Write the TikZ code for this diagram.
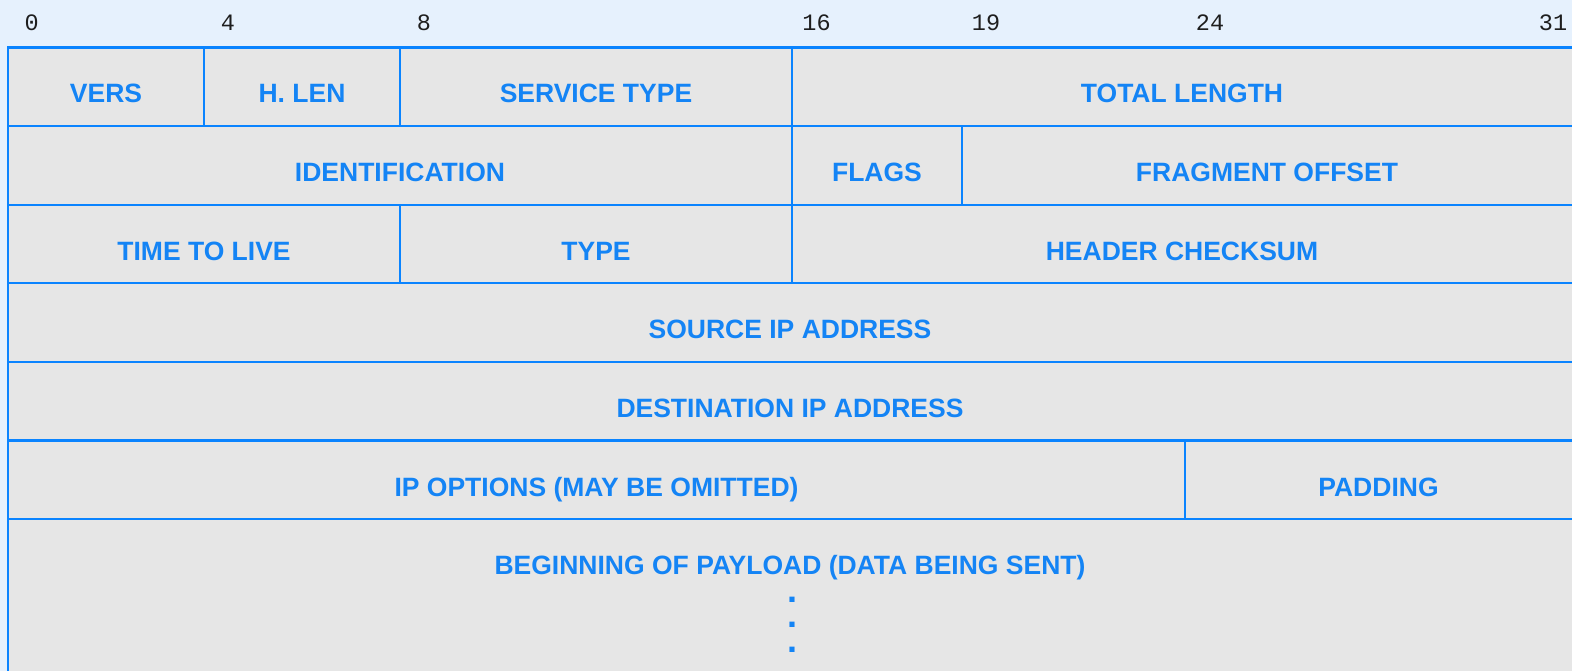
\documentclass[tikz,border=0pt]{standalone}
\usepackage{fontspec}
\setmainfont{Liberation Sans}
\newfontfamily\bitfont{Liberation Mono}
\definecolor{pagebg}{RGB}{230,241,253}
\definecolor{cellbg}{RGB}{230,230,230}
\definecolor{rulecol}{RGB}{10,132,255}
\definecolor{inkcol}{RGB}{20,132,245}
\definecolor{bitcol}{RGB}{30,30,30}

\begin{document}
\begin{tikzpicture}[x=1pt,y=-1pt,
  cell/.style={draw=rulecol, fill=cellbg, line width=2.2pt},
  fieldlabel/.style={anchor=base, text=inkcol, inner sep=0pt,
    font=\fontsize{26.5}{30}\selectfont\bfseries},
  dotmarks/.style={anchor=south, text=inkcol, inner sep=0pt, align=center,
    font=\fontsize{36}{24.8}\selectfont\bfseries},
  bitlabel/.style={anchor=base, text=bitcol, inner sep=0pt,
    font=\fontsize{23.5}{28}\bitfont}]

% page and frame
\fill[pagebg] (0,0) rectangle (1572,671);
\useasboundingbox (0,0) rectangle (1572,671);

% row boundaries
\def\ra{47.5}\def\rb{126.1}\def\rc{204.7}\def\rd{283.3}
\def\re{361.9}\def\rf{440.5}\def\rg{519.1}
\def\R{1573}

% bit positions above the header
\node[bitlabel] (b0)  at (31.7,31) {0};
\node[bitlabel] (b4)  at (228,31)  {4};
\node[bitlabel] (b8)  at (424,31)  {8};
\node[bitlabel] (b16) at (816.5,31) {16};
\node[bitlabel] (b19) at (986,31)  {19};
\node[bitlabel] (b24) at (1210,31) {24};
\node[bitlabel] (b31) at (1553,31) {31};

% word 1
\draw[cell] (8,\ra) rectangle (204,\rb);
\draw[cell] (204,\ra) rectangle (400,\rb);
\draw[cell] (400,\ra) rectangle (792,\rb);
\draw[cell] (792,\ra) rectangle (\R,\rb);
\node[fieldlabel] (vers) at (106,\ra+55.5) {VERS};
\node[fieldlabel] (hlen) at (302,\ra+55.5) {H. LEN};
\node[fieldlabel] (stype) at (596,\ra+55.5) {SERVICE TYPE};
\node[fieldlabel] (tlen) at (1182,\ra+55.5) {TOTAL LENGTH};

% word 2
\draw[cell] (8,\rb) rectangle (792,\rc);
\draw[cell] (792,\rb) rectangle (962,\rc);
\draw[cell] (962,\rb) rectangle (\R,\rc);
\node[fieldlabel] (ident) at (400,\rb+55.5) {IDENTIFICATION};
\node[fieldlabel] (flags) at (877,\rb+55.5) {FLAGS};
\node[fieldlabel] (fragoff) at (1267,\rb+55.5) {FRAGMENT OFFSET};

% word 3
\draw[cell] (8,\rc) rectangle (400,\rd);
\draw[cell] (400,\rc) rectangle (792,\rd);
\draw[cell] (792,\rc) rectangle (\R,\rd);
\node[fieldlabel] (ttl) at (204,\rc+55.5) {TIME TO LIVE};
\node[fieldlabel] (ptype) at (596,\rc+55.5) {TYPE};
\node[fieldlabel] (csum) at (1182,\rc+55.5) {HEADER CHECKSUM};

% words 4 and 5
\draw[cell] (8,\rd) rectangle (\R,\re);
\draw[cell] (8,\re) rectangle (\R,\rf);
\node[fieldlabel] (src) at (790,\rd+55.5) {SOURCE IP ADDRESS};
\node[fieldlabel] (dst) at (790,\re+55.5) {DESTINATION IP ADDRESS};

% word 6
\draw[cell] (8,\rf) rectangle (1185,\rg);
\draw[cell] (1185,\rf) rectangle (\R,\rg);
\node[fieldlabel] (opts) at (596.5,\rf+55.5) {IP OPTIONS (MAY BE OMITTED)};
\node[fieldlabel] (pad) at (1378.5,\rf+55.5) {PADDING};

% payload, continuing below the picture
\draw[cell] (8,\rg) rectangle (\R,690);
\node[fieldlabel] (payload) at (790,\rg+55.5) {BEGINNING OF PAYLOAD (DATA BEING SENT)};
\node[dotmarks] (more) at (792.5,652.3) {.\\.\\.};
\end{tikzpicture}
\end{document}
